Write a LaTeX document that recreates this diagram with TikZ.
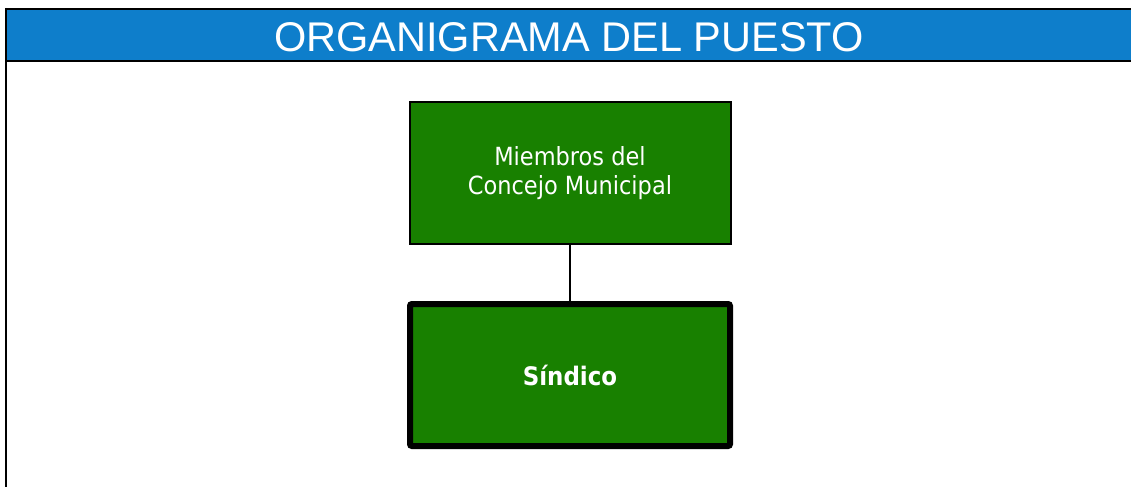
\documentclass[tikz,border=0pt]{standalone}
\usepackage{fontspec}
\setmainfont{Liberation Sans}
\newfontfamily\boxfont{DejaVu Sans Condensed}
\definecolor{hdrblue}{RGB}{14,126,203}
\definecolor{boxgreen}{RGB}{24,128,0}
\begin{document}
\begin{tikzpicture}[x=1pt,y=-1pt,
  orgbox/.style={draw=black, fill=boxgreen, text=white, align=center, inner sep=0pt},
  frameline/.style={draw=black, line width=2.4pt}]
\useasboundingbox (0,0) rectangle (1131,487);
% header
\fill[hdrblue] (6,9) rectangle (1131,61);
\draw[frameline] (6,9) -- (1131,9);
\draw[frameline] (6,61) -- (1131,61);
\draw[frameline] (6,8) -- (6,487);
\node[text=white, font=\fontsize{41.5}{44}\selectfont] (title) at (569,37) {ORGANIGRAMA DEL PUESTO};
% boxes
\node[orgbox, line width=2pt, minimum width=321pt, minimum height=142pt,
      font=\boxfont\fontsize{25}{28.5}\selectfont] (consejo) at (570,173)
      {Miembros del\\Concejo Municipal};
\node[orgbox, line width=6pt, rounded corners=2pt, minimum width=320pt, minimum height=142pt,
      font=\boxfont\bfseries\fontsize{25.5}{28}\selectfont] (sindico) at (570,375) {Síndico};
\draw[line width=2pt] (consejo.south) -- (sindico.north);
\end{tikzpicture}
\end{document}
